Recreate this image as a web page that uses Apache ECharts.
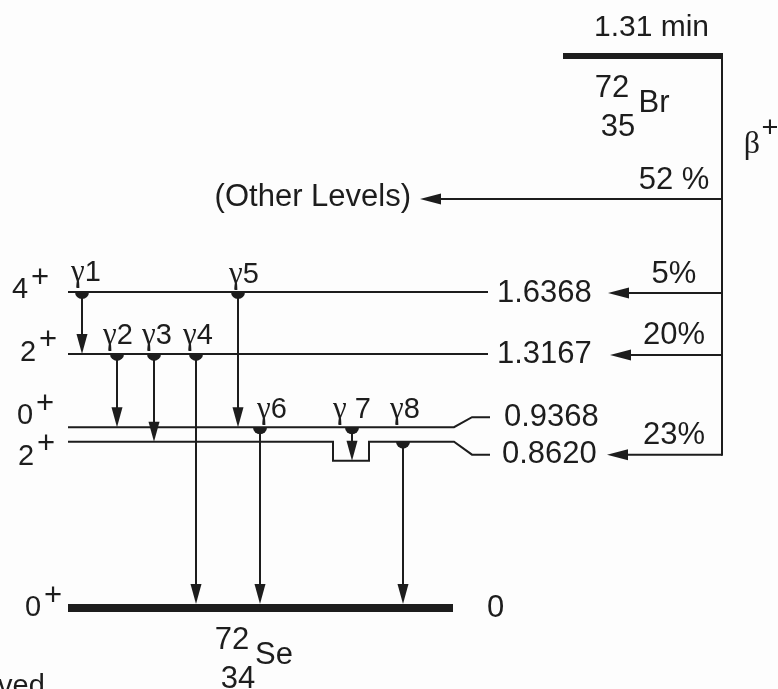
<!DOCTYPE html>
<html><head><meta charset="utf-8">
<script src="https://cdn.jsdelivr.net/npm/echarts@6/dist/echarts.min.js"></script>
<style>html,body{margin:0;padding:0;background:#fdfdfd}#c{width:778px;height:689px}</style>
</head><body><div id="c"></div>
<script>
// ---------------- data ----------------
const levelEnergies     = [0, 0.8620, 0.9368, 1.3167, 1.6368];   // MeV levels of 72Se
const levelEnergyLabels = ['0', '0.8620', '0.9368', '1.3167', '1.6368'];
const levelSpins        = ['0', '2', '0', '2', '4'];
const levelParities     = ['+', '+', '+', '+', '+'];

const gammaNames     = ['γ1', 'γ2', 'γ3', 'γ4', 'γ5', 'γ6', 'γ 7', 'γ8'];
const gammaFromLevel = [4, 3, 3, 3, 4, 2, 2, 1];
const gammaToLevel   = [3, 2, 1, 0, 2, 0, 1, 0];

const betaBranchLabels  = ['52 %', '5%', '20%', '23%'];
const betaBranchTargets = [null, 4, 3, 1];          // null = other levels
const betaOtherText     = '(Other Levels)';
const decayModeLabel    = ['β', '+'];
const parentHalfLife    = '1.31 min';

const nuclideSymbols = ['Br', 'Se'];
const nuclideMass    = ['72', '72'];
const nuclideCharge  = ['35', '34'];

// ---------------- layout (positions / sizes only) ----------------
const LAY = {
  parentE: 2.86, otherE: 2.119,
  levelX0: 68, levelX1: 490, groundX1: 453, groundW: 8,
  bendX0: 454, bendX1: 472,
  labelDy: [0, 13, -10, 1, 1],
  labelX: [487, 502, 504, 497, 497],
  spinX: [33, 26, 25, 28, 20],
  spinDy: [0, 15, -11, -1, -2],
  plusDx: 20, plusDy: -12,
  parentX0: 563, parentX1: 722, parentW: 6,
  betaX: 722,
  betaTipX: [420, 608, 610, 607],
  pctX: 674, pctDy: -19,
  gammaX: [82, 117, 154, 196, 238, 260, 352, 403],
  gammaLabelX: [86, 118, 157, 198, 244, 272, 352, 405],
  gammaLabelDy: [-19, -18, -18, -18, -17, -17, -17, -32],
  dip: { x0: 333, x1: 369, depth: 19 },
  arrowLen: 20, arrowHalf: 5.5, dotR: 7,
  nucSymDy: 47, nucSymX: [654, 274]
};

const SANS = '"Liberation Sans", Arial, Helvetica, sans-serif';
const SERIF = '"Liberation Serif", "Times New Roman", serif';
const INK = '#1d1d1d';
const FS = 31;

function txt(x, y, text, size, align, family, vAlign) {
  return { type: 'text', x: x, y: y, style: { text: text, fontSize: size, fontFamily: family || SANS,
    fill: INK, align: align || 'left', verticalAlign: vAlign || 'middle' } };
}
function pline(points, w) {
  return { type: 'polyline', shape: { points: points }, style: { stroke: INK, lineWidth: w || 2, fill: null } };
}
function tri(points) { return { type: 'polygon', shape: { points: points }, style: { fill: INK } }; }
function nuclide(cx, cy, k) {
  return [
    txt(cx, cy, nuclideSymbols[k], FS, 'center'),
    txt(cx - 42, cy - 15, nuclideMass[k], 31, 'center'),
    txt(cx - 36, cy + 24, nuclideCharge[k], 31, 'center')
  ];
}

const chart = echarts.init(document.getElementById('c'), null, { renderer: 'canvas' });

const levelSeries = {
  type: 'custom', coordinateSystem: 'cartesian2d', silent: true,
  data: levelEnergies.map(function (e) { return [LAY.levelX0, e]; }),
  renderItem: function (params, api) {
    const i = params.dataIndex, E = levelEnergies[i];
    const p = api.coord([LAY.levelX0, E]);
    const x0 = p[0], y = p[1];
    const dy = LAY.labelDy[i];
    const kids = [];
    if (E === 0) {
      const xe = api.coord([LAY.groundX1, E])[0];
      kids.push(pline([[x0, y], [xe, y]], LAY.groundW));
      kids.push(txt(LAY.labelX[i], y, levelEnergyLabels[i], FS, 'left'));
      nuclide(LAY.nucSymX[1], y + LAY.nucSymDy, 1).forEach(function (k) { kids.push(k); });
    } else {
      const xb0 = api.coord([LAY.bendX0, E])[0], xb1 = api.coord([LAY.bendX1, E])[0];
      const xe = api.coord([LAY.levelX1, E])[0];
      let pts = [[x0, y]];
      if (i === 1) {
        const d0 = api.coord([LAY.dip.x0, E])[0], d1 = api.coord([LAY.dip.x1, E])[0];
        pts.push([d0, y], [d0, y + LAY.dip.depth], [d1, y + LAY.dip.depth], [d1, y]);
      }
      if (Math.abs(dy) > 3) pts.push([xb0, y], [xb1, y + dy], [xe, y + dy]);
      else pts.push([xe - 2, y]);
      kids.push(pline(pts, 2));
      kids.push(txt(LAY.labelX[i], y + dy, levelEnergyLabels[i], FS, 'left'));
    }
    const sy = y + LAY.spinDy[i];
    kids.push(txt(LAY.spinX[i], sy, levelSpins[i], 29, 'center'));
    kids.push(txt(LAY.spinX[i] + LAY.plusDx, sy + LAY.plusDy, levelParities[i], 31, 'center'));
    return { type: 'group', children: kids };
  }
};

const gammaSeries = {
  type: 'custom', coordinateSystem: 'cartesian2d', silent: true,
  data: gammaNames.map(function (n, i) { return [LAY.gammaX[i], levelEnergies[gammaFromLevel[i]]]; }),
  renderItem: function (params, api) {
    const i = params.dataIndex;
    const from = gammaFromLevel[i], to = gammaToLevel[i];
    const top = api.coord([LAY.gammaX[i], levelEnergies[from]]);
    const bot = api.coord([LAY.gammaX[i], levelEnergies[to]]);
    const x = top[0];
    let tip = bot[1];
    if (levelEnergies[to] === 0) tip -= LAY.groundW / 2;
    if (to === 1 && LAY.gammaX[i] > LAY.dip.x0 && LAY.gammaX[i] < LAY.dip.x1) tip += LAY.dip.depth;
    const L = LAY.arrowLen, H = LAY.arrowHalf;
    const name = gammaNames[i];
    return { type: 'group', children: [
      { type: 'sector', shape: { cx: x, cy: top[1], r0: 0, r: LAY.dotR, startAngle: 0, endAngle: Math.PI }, style: { fill: INK } },
      pline([[x, top[1]], [x, tip - L + 2]], 2),
      tri([[x - H, tip - L], [x + H, tip - L], [x, tip]]),
      { type: 'text', x: LAY.gammaLabelX[i], y: top[1] + LAY.gammaLabelDy[i], style: {
        text: '{g|' + name.charAt(0) + '}{n|' + name.slice(1) + '}',
        align: 'center', verticalAlign: 'middle', fill: INK,
        rich: { g: { fontFamily: SERIF, fontSize: 31, fill: INK }, n: { fontFamily: SANS, fontSize: 29, fill: INK } }
      } }
    ] };
  }
};

const betaSeries = {
  type: 'custom', coordinateSystem: 'cartesian2d', silent: true,
  data: betaBranchLabels.map(function (l, i) {
    const t = betaBranchTargets[i];
    return [LAY.betaX, t === null ? LAY.otherE : levelEnergies[t]];
  }),
  renderItem: function (params, api) {
    const i = params.dataIndex, t = betaBranchTargets[i];
    const E = t === null ? LAY.otherE : levelEnergies[t];
    const p = api.coord([LAY.betaX, E]);
    const y = p[1] + (t === null ? 0 : LAY.labelDy[t]);
    const xs = p[0];
    const tip = api.coord([LAY.betaTipX[i], E])[0];
    const L = 21, H = 5.5;
    const kids = [
      pline([[xs, y], [tip + L - 2, y]], 2),
      tri([[tip, y], [tip + L, y - H], [tip + L, y + H]]),
      txt(LAY.pctX, y + LAY.pctDy, betaBranchLabels[i], FS, 'center')
    ];
    if (t === null) kids.push(txt(tip - 9, y - 2, betaOtherText, FS, 'right'));
    return { type: 'group', children: kids };
  }
};

const parentSeries = {
  type: 'custom', coordinateSystem: 'cartesian2d', silent: true,
  data: [[LAY.parentX0, LAY.parentE]],
  renderItem: function (params, api) {
    const a = api.coord([LAY.parentX0, LAY.parentE]);
    const b = api.coord([LAY.parentX1, LAY.parentE]);
    const lowest = api.coord([LAY.betaX, levelEnergies[1]]);
    const yLow = lowest[1] + LAY.labelDy[1];
    const kids = [
      pline([[a[0], a[1]], [b[0] + 1, a[1]]], LAY.parentW),
      pline([[b[0], a[1]], [b[0], yLow + 1]], 2),
      txt((a[0] + b[0]) / 2 + 9, a[1] - 28, parentHalfLife, 30, 'center'),
      txt(b[0] + 30, a[1] + 89, decayModeLabel[0], 32, 'center', SERIF),
      txt(b[0] + 48, a[1] + 73, decayModeLabel[1], 29, 'center')
    ];
    nuclide(LAY.nucSymX[0], a[1] + LAY.nucSymDy, 0).forEach(function (k) { kids.push(k); });
    return { type: 'group', children: kids };
  }
};

chart.setOption({
  backgroundColor: '#fdfdfd',
  animation: false,
  grid: { left: 0, width: 778, top: 9.7, height: 675.5, containLabel: false },
  xAxis: { type: 'value', min: 0, max: 778, show: false },
  yAxis: { type: 'value', min: -0.4, max: 3.1, show: false },
  graphic: [{ type: 'text', left: -2, top: 672, silent: true,
    style: { text: 'ved', fontSize: 29, fontFamily: SANS, fill: INK } }],
  series: [levelSeries, gammaSeries, betaSeries, parentSeries]
});
</script>
</body></html>
